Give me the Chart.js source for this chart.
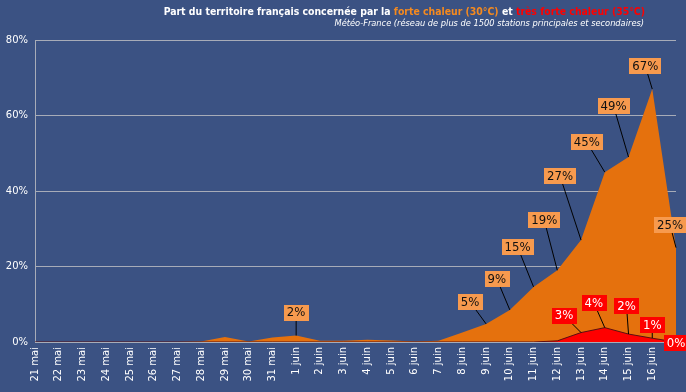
<!DOCTYPE html>
<html>
<head>
<meta charset="utf-8">
<script src="https://cdn.jsdelivr.net/npm/chart.js@4"></script>
<style>
  html, body { margin: 0; padding: 0; background: #3b5283; }
  #wrap { width: 686px; height: 392px; }
</style>
</head>
<body>
<div id="wrap"><canvas id="chart" width="686" height="392"></canvas></div>
<script>
const days = ["21 mai", "22 mai", "23 mai", "24 mai", "25 mai", "26 mai", "27 mai", "28 mai", "29 mai", "30 mai",
    "31 mai", "1 juin", "2 juin", "3 juin", "4 juin", "5 juin", "6 juin", "7 juin", "8 juin", "9 juin",
    "10 juin", "11 juin", "12 juin", "13 juin", "14 juin", "15 juin", "16 juin", ""];
const forteChaleur = [0, 0, 0, 0, 0, 0, 0, 0.1, 1.3, 0.1, 1.2, 1.7, 0.3, 0.3, 0.6, 0.4, 0.1, 0.3, 2.5, 4.8,
    8.5, 14.6, 19, 27, 45, 49, 67, 25];
const tresForteChaleur = [0, 0, 0, 0, 0, 0, 0, 0, 0, 0, 0, 0, 0, 0, 0, 0, 0, 0, 0, 0,
    0, 0, 0.3, 2.5, 3.8, 2.1, 1, 0];
const yTicks = [0, 20, 40, 60, 80];

// which points get a label, and where the box sits relative to the point
const orangeLabels = [[11, 0, -23], [19, -16, -22], [20, -13, -31], [21, -16, -40], [22, -13, -50],
    [23, -21, -64], [24, -18, -30], [25, -15, -51], [26, -7, -23], [27, -6, -23]];
const redLabels = [[23, -17, -17], [24, -11, -25], [25, -2, -28], [26, 0, -13], [27, 0, 1]];

const ORANGE = "#e5710d";
const RED = "#ff0000";

const titlePlugin = {
    id: "titleDraw",
    afterDraw(chart) {
        const ctx = chart.ctx;
        ctx.save();
        ctx.textBaseline = "alphabetic";
        const parts = [
            ["Part du territoire français concernée par la ", "#ffffff"],
            ["forte chaleur (30°C)", "#f58a1f"],
            [" et ", "#ffffff"],
            ["très forte chaleur (35°C)", RED]
        ];
        ctx.font = "bold 10.4px 'DejaVu Sans Condensed'";
        let total = 0;
        parts.forEach(p => total += ctx.measureText(p[0]).width);
        let x = 645 - total;
        parts.forEach(p => {
            ctx.fillStyle = p[1];
            ctx.fillText(p[0], x, 15);
            x += ctx.measureText(p[0]).width;
        });
        ctx.font = "italic 9.2px 'DejaVu Sans Condensed'";
        ctx.fillStyle = "#ffffff";
        ctx.textAlign = "right";
        ctx.fillText("Météo-France (réseau de plus de 1500 stations principales et secondaires)", 644, 26);
        ctx.restore();
    }
};

const labelPlugin = {
    id: "pointLabels",
    afterDatasetsDraw(chart) {
        const ctx = chart.ctx;
        const draw = (dsIndex, list, fill, textColor) => {
            const meta = chart.getDatasetMeta(dsIndex);
            const values = chart.data.datasets[dsIndex].data;
            list.forEach(([i, dx, dy]) => {
                const pt = meta.data[i];
                const text = Math.round(values[i]) + "%";
                ctx.font = "13px 'DejaVu Sans Condensed'";
                const w = ctx.measureText(text).width + 6;
                const h = 16;
                const bx = pt.x + dx, by = pt.y + dy;
                if (Math.abs(dx) + Math.abs(dy) > 8) {
                    ctx.strokeStyle = "#000000";
                    ctx.lineWidth = 1;
                    ctx.beginPath();
                    ctx.moveTo(pt.x, pt.y);
                    ctx.lineTo(bx, by);
                    ctx.stroke();
                }
                ctx.fillStyle = fill;
                ctx.fillRect(Math.round(bx - w / 2), Math.round(by - h / 2), Math.round(w), h);
                ctx.fillStyle = textColor;
                ctx.textAlign = "center";
                ctx.textBaseline = "middle";
                ctx.fillText(text, bx, by + 0.5);
            });
        };
        ctx.save();
        draw(1, orangeLabels, "#f79a4e", "#111111");
        draw(0, redLabels, RED, "#ffffff");
        ctx.restore();
    }
};

new Chart(document.getElementById("chart"), {
    type: "line",
    data: {
        labels: days,
        datasets: [
            {
                label: "très forte chaleur",
                data: tresForteChaleur,
                backgroundColor: RED,
                borderColor: "#5a1010",
                borderWidth: 1,
                fill: "origin",
                pointRadius: 0,
                tension: 0,
                order: 0
            },
            {
                label: "forte chaleur",
                data: forteChaleur,
                backgroundColor: ORANGE,
                borderColor: ORANGE,
                borderWidth: 0,
                fill: "origin",
                pointRadius: 0,
                tension: 0,
                order: 1
            }
        ]
    },
    options: {
        responsive: false,
        animation: false,
        layout: { padding: { top: 40, right: 10, left: 0, bottom: 0 } },
        plugins: {
            legend: { display: false },
            tooltip: { enabled: false }
        },
        scales: {
            x: {
                offset: false,
                grid: { display: false, drawTicks: false },
                border: { display: true, color: "#a7acb8", width: 1 },
                ticks: {
                    color: "#ffffff",
                    font: { family: "'DejaVu Sans'", size: 10 },
                    minRotation: 90,
                    maxRotation: 90,
                    autoSkip: false,
                    padding: 5
                },
                afterFit(scale) {
                    scale.height = 50;
                    scale.paddingLeft = 0;
                    scale.paddingRight = 0;
                }
            },
            y: {
                min: 0,
                max: 80,
                afterBuildTicks(scale) { scale.ticks = yTicks.map(v => ({ value: v })); },
                grid: { color: "#a7acb8", lineWidth: 1, drawTicks: false },
                border: { display: true, color: "#a7acb8", width: 1 },
                ticks: {
                    color: "#ffffff",
                    font: { family: "'DejaVu Sans'", size: 10 },
                    padding: 7,
                    callback: v => v + "%"
                },
                afterFit(scale) {
                    scale.width = 35;
                    scale.paddingTop = 0;
                    scale.paddingBottom = 0;
                }
            }
        }
    },
    plugins: [labelPlugin, titlePlugin]
});
</script>
</body>
</html>
